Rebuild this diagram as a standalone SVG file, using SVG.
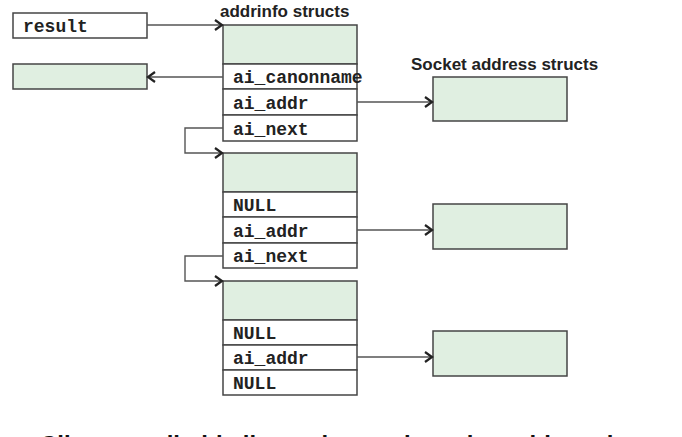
<svg xmlns="http://www.w3.org/2000/svg" width="682" height="437" viewBox="0 0 682 437">
<defs>
<style>
.box{fill:#ffffff;stroke:#454545;stroke-width:1.5}
.g{fill:#e0efe1;stroke:#454545;stroke-width:1.5}
.mono{font-family:"Liberation Mono","Courier New",monospace;font-weight:bold;font-size:18px;fill:#222}
.title{font-family:"Liberation Sans",Arial,sans-serif;font-weight:bold;font-size:17px;fill:#222}
.conn{fill:none;stroke:#555;stroke-width:1.4}
</style>
<marker id="arr" markerUnits="userSpaceOnUse" markerWidth="12" markerHeight="12" refX="9" refY="6" orient="auto">
<path d="M2,1 L9,6 L2,11" fill="none" stroke="#222" stroke-width="2.2"/>
</marker>
</defs>
<rect width="682" height="437" fill="#ffffff"/>

<g id="result">
<rect class="box" x="13" y="13" width="134" height="25"/>
<text class="mono" x="23" y="32">result</text>
</g>
<g id="canonname">
<rect class="g" x="13" y="64" width="134" height="25"/>
</g>

<text class="title" x="220" y="17">addrinfo structs</text>
<text class="title" x="411" y="70">Socket address structs</text>

<g id="addrinfo1">
<rect class="g" x="223" y="25" width="134" height="39"/>
<rect class="box" x="223" y="64" width="134" height="25"/>
<rect class="box" x="223" y="89" width="134" height="26"/>
<rect class="box" x="223" y="115" width="134" height="26"/>
<text class="mono" x="233" y="83">ai_canonname</text>
<text class="mono" x="233" y="109">ai_addr</text>
<text class="mono" x="233" y="135">ai_next</text>
</g>
<g id="addrinfo2">
<rect class="g" x="223" y="153" width="134" height="39"/>
<rect class="box" x="223" y="192" width="134" height="25"/>
<rect class="box" x="223" y="217" width="134" height="26"/>
<rect class="box" x="223" y="243" width="134" height="25"/>
<text class="mono" x="233" y="211">NULL</text>
<text class="mono" x="233" y="237">ai_addr</text>
<text class="mono" x="233" y="262">ai_next</text>
</g>
<g id="addrinfo3">
<rect class="g" x="223" y="281" width="134" height="39"/>
<rect class="box" x="223" y="320" width="134" height="25"/>
<rect class="box" x="223" y="345" width="134" height="25"/>
<rect class="box" x="223" y="370" width="134" height="25"/>
<text class="mono" x="233" y="339">NULL</text>
<text class="mono" x="233" y="364">ai_addr</text>
<text class="mono" x="233" y="389">NULL</text>
</g>

<g id="sock1"><rect class="g" x="433" y="77" width="134" height="44"/></g>
<g id="sock2"><rect class="g" x="433" y="204" width="134" height="45"/></g>
<g id="sock3"><rect class="g" x="433" y="331" width="134" height="45"/></g>

<g id="connectors">
<path class="conn" d="M147,25 H222" marker-end="url(#arr)"/>
<path class="conn" d="M223,77 H148" marker-end="url(#arr)"/>
<path class="conn" d="M357,102 H432" marker-end="url(#arr)"/>
<path class="conn" d="M223,128 H185 V153 H222" marker-end="url(#arr)"/>
<path class="conn" d="M357,230 H432" marker-end="url(#arr)"/>
<path class="conn" d="M223,256 H185 V281 H222" marker-end="url(#arr)"/>
<path class="conn" d="M357,357 H432" marker-end="url(#arr)"/>
</g>

<text x="40" y="453" font-family="Liberation Sans, Arial, sans-serif" font-weight="bold" font-size="24" fill="#111">Clients: walk this list, trying each socket address in turn,</text>
</svg>
